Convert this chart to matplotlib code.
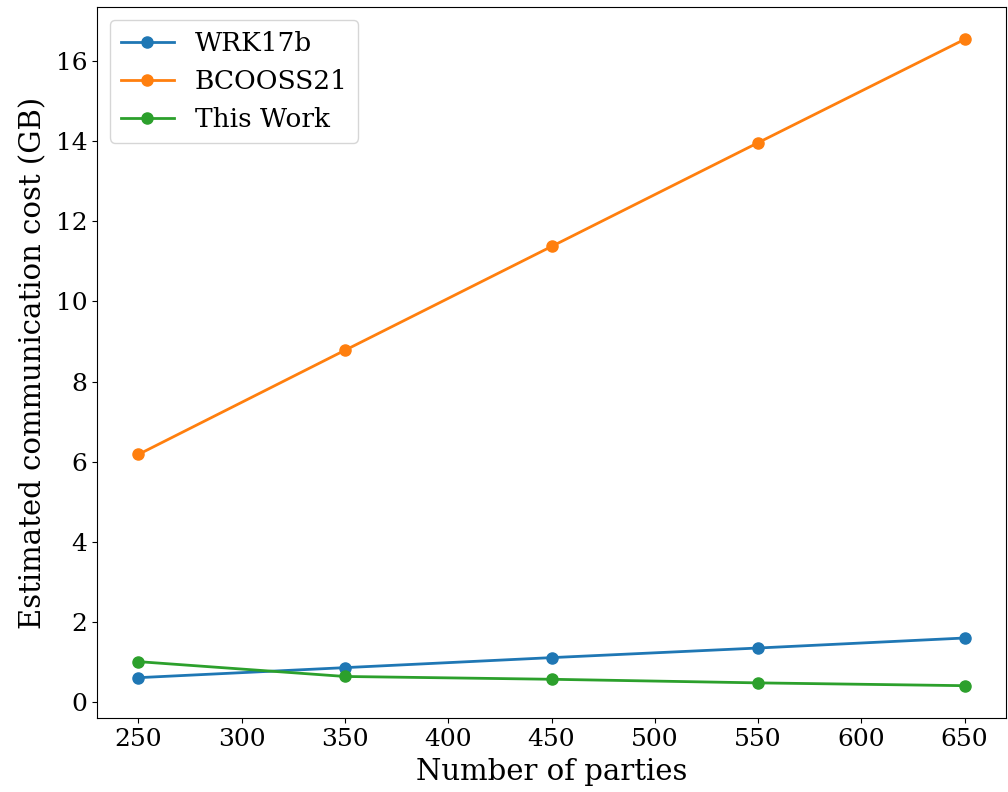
import numpy as np
import matplotlib.pyplot as plt

plt.rcParams['font.family'] = 'DejaVu Serif'
plt.rcParams['font.size'] = 18

# parties and estimated cost (GB)
parties = [250, 350, 450, 550, 650]
wrk17b = [0.61, 0.86, 1.11, 1.35, 1.60]
bcooss21 = [6.18, 8.78, 11.37, 13.96, 16.54]
this_work = [1.01, 0.64, 0.57, 0.48, 0.41]

fig = plt.figure(figsize=(10.08, 7.92), dpi=100)
ax = fig.add_axes([97 / 1008, 1 - 718 / 792, 909 / 1008, 711 / 792])

ax.plot(parties, wrk17b, marker='o', lw=2, ms=8, label='WRK17b')
ax.plot(parties, bcooss21, marker='o', lw=2, ms=8, label='BCOOSS21')
ax.plot(parties, this_work, marker='o', lw=2, ms=8, label='This Work')

ax.set_xlabel('Number of parties', fontsize=21, labelpad=5)
ax.set_ylabel('Estimated communication cost (GB)', fontsize=21, labelpad=6)
ax.set_xticks(np.arange(250, 651, 50))
ax.legend(loc='upper left', fontsize=19)

fig.savefig('out.png', dpi=100)
